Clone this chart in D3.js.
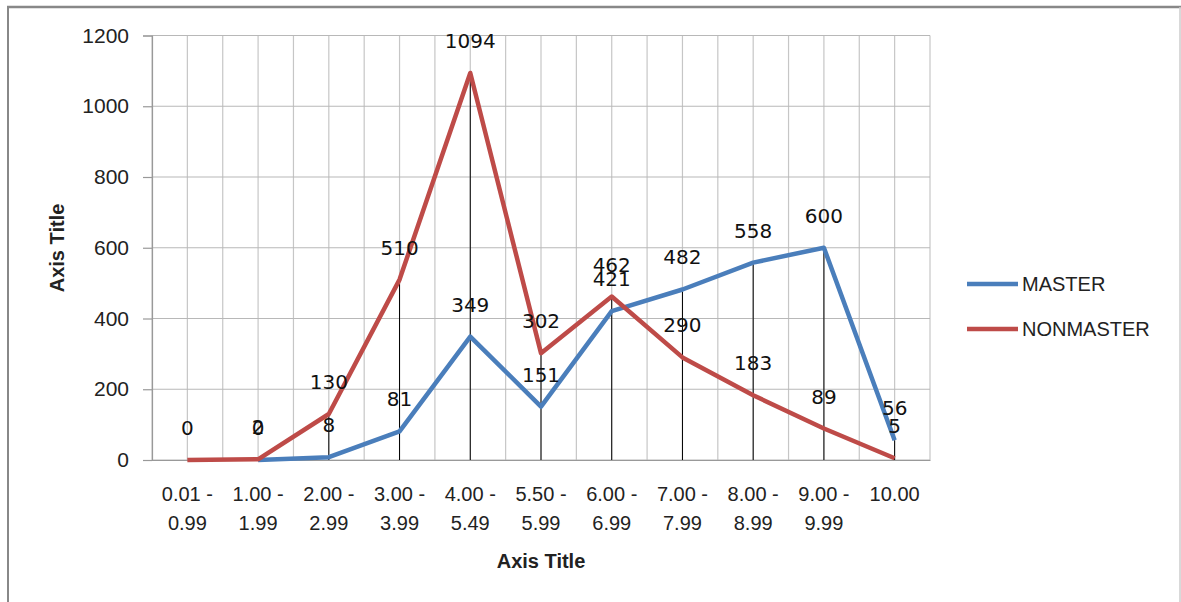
<!DOCTYPE html>
<html><head><meta charset="utf-8">
<script src="https://cdn.jsdelivr.net/npm/d3@7"></script>
<style>body{margin:0;background:#fff;}svg{display:block;}</style>
</head><body>
<script>
const categories = [["0.01 -","0.99"],["1.00 -","1.99"],["2.00 -","2.99"],["3.00 -","3.99"],["4.00 -","5.49"],["5.50 -","5.99"],["6.00 -","6.99"],["7.00 -","7.99"],["8.00 -","8.99"],["9.00 -","9.99"],["10.00"]];
const master = [null, 0, 8, 81, 349, 151, 421, 482, 558, 600, 56];
const nonmaster = [0, 2, 130, 510, 1094, 302, 462, 290, 183, 89, 5];
const yTicks = [0, 200, 400, 600, 800, 1000, 1200];
const seriesNames = ["MASTER", "NONMASTER"];
const seriesColors = ["#4a7ebb", "#be4b48"];

(function(){
const W = 1181, H = 602;
const svg = d3.select("body").append("svg").attr("width", W).attr("height", H);
const pL = 152, pR = 930, pT = 35.5, pB = 460;
const x = d3.scaleBand().domain(d3.range(categories.length)).range([pL, pR]);
const y = d3.scaleLinear().domain([0, 1200]).range([pB, pT]);
const cx = i => x(i) + x.bandwidth() / 2;
const tickFont = "'Liberation Sans', Arial, sans-serif";

// outer frame
svg.append("line").attr("x1", 8).attr("x2", 8).attr("y1", 7).attr("y2", H).attr("stroke", "#888").attr("stroke-width", 2);
svg.append("line").attr("x1", 7).attr("x2", W).attr("y1", 7).attr("y2", 7).attr("stroke", "#888").attr("stroke-width", 2.5);
svg.append("line").attr("x1", 1180).attr("x2", 1180).attr("y1", 7).attr("y2", H).attr("stroke", "#ccc").attr("stroke-width", 1.5);

// vertical gridlines at half-band intervals
const half = x.bandwidth() / 2;
const vg = d3.range(categories.length * 2 + 1).map(k => pL + k * half);
svg.append("g").selectAll("line").data(vg).join("line")
  .attr("x1", d => d).attr("x2", d => d).attr("y1", pT).attr("y2", pB)
  .attr("stroke", "#c6c6c6").attr("stroke-width", 1.2);
// horizontal gridlines
svg.append("g").selectAll("line").data(yTicks).join("line")
  .attr("x1", pL).attr("x2", pR).attr("y1", d => y(d)).attr("y2", d => y(d))
  .attr("stroke", "#b8b8b8").attr("stroke-width", 1.2);

// y axis
const ya = svg.append("g").attr("transform", `translate(${pL},0)`)
  .call(d3.axisLeft(y).tickValues(yTicks).tickFormat(d3.format("d")).tickSize(9).tickPadding(14));
ya.select(".domain").attr("stroke", "#999").attr("stroke-width", 1.2);
ya.selectAll(".tick line").attr("stroke", "#999").attr("stroke-width", 1.2);
ya.selectAll(".tick text").attr("font-family", tickFont).attr("font-size", 21).attr("fill", "#222");

// x axis
const xa = svg.append("g").attr("transform", `translate(0,${pB})`)
  .call(d3.axisBottom(x).tickSize(0).tickFormat(""));
xa.select(".domain").attr("stroke", "#999").attr("stroke-width", 1.2);
xa.selectAll(".tick").each(function(i) {
  const t = d3.select(this).append("text").attr("font-family", tickFont).attr("font-size", 20)
    .attr("fill", "#222").attr("text-anchor", "middle");
  categories[i].forEach((s, j) => t.append("tspan").attr("x", 0).attr("y", 41 + j * 29).text(s));
});

// axis titles
svg.append("text").attr("x", 541).attr("y", 568).attr("text-anchor", "middle")
  .attr("font-family", tickFont).attr("font-weight", "bold").attr("font-size", 20).attr("fill", "#222").text("Axis Title");
svg.append("text").attr("transform", "translate(64,248) rotate(-90)").attr("text-anchor", "middle")
  .attr("font-family", tickFont).attr("font-weight", "bold").attr("font-size", 20).attr("fill", "#222").text("Axis Title");

// drop lines
svg.append("g").selectAll("line").data(categories.map((c, i) => i)).join("line")
  .attr("x1", i => cx(i)).attr("x2", i => cx(i))
  .attr("y1", i => y(Math.max(master[i] ?? 0, nonmaster[i] ?? 0))).attr("y2", pB)
  .attr("stroke", "#000").attr("stroke-width", 1);

// lines
const series = [master, nonmaster];
const lineGen = d3.line().defined(d => d.v != null).x(d => cx(d.i)).y(d => y(d.v));
series.forEach((s, k) => {
  svg.append("path").datum(s.map((v, i) => ({v, i})))
    .attr("d", lineGen).attr("fill", "none").attr("stroke", seriesColors[k])
    .attr("stroke-width", 4.5).attr("stroke-linejoin", "round");
});

// data labels
series.forEach((s, k) => {
  svg.append("g").selectAll("text").data(s.map((v, i) => ({v, i})).filter(d => d.v != null)).join("text")
    .attr("x", d => cx(d.i)).attr("y", d => y(d.v) - 25).attr("text-anchor", "middle")
    .attr("font-family", "'DejaVu Sans', sans-serif").attr("font-size", 20).attr("fill", "#111")
    .text(d => d.v);
});

// legend
seriesNames.forEach((n, k) => {
  const ly = 284 + k * 45;
  svg.append("line").attr("x1", 967).attr("x2", 1018).attr("y1", ly).attr("y2", ly)
    .attr("stroke", seriesColors[k]).attr("stroke-width", 4.5);
  svg.append("text").attr("x", 1022).attr("y", ly + 7).attr("font-family", tickFont)
    .attr("font-size", 20).attr("fill", "#222").text(n);
});
})();
</script>
</body></html>
